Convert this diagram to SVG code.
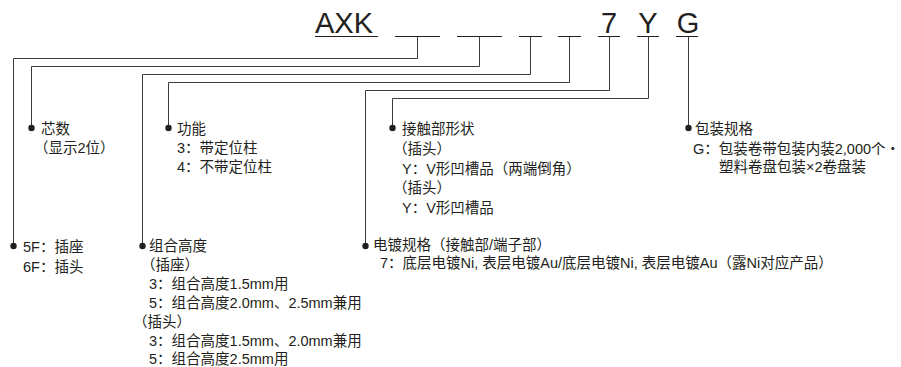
<svg xmlns="http://www.w3.org/2000/svg" width="901" height="367" viewBox="0 0 901 367">
<style>
text{font-family:"Liberation Sans","Noto Sans CJK SC",sans-serif;fill:#231f20;font-size:14.5px}
.big{font-size:29px}
.ln{fill:none;stroke:#3a3a3a;stroke-width:1}
.ul{fill:none;stroke:#231f20;stroke-width:1}
.dot{fill:#231f20}
</style>
<rect width="901" height="367" fill="#fff"/>
<g id="header">
<text class="big" x="315" y="33">AXK</text>
<text class="big" x="609" y="33" text-anchor="middle">7</text>
<text class="big" x="648" y="33" text-anchor="middle">Y</text>
<text class="big" x="688" y="33" text-anchor="middle">G</text>
<path class="ul" d="M315 36.5H378M395 36.5H440M457 36.5H502M519 36.5H542M558 36.5H581M598 36.5H620M637 36.5H659M676 36.5H698"/>
</g>
<g id="connectors">
<path class="ln" d="M417.5 36.5V58.5H13.5V246"/>
<path class="ln" d="M479.5 36.5V66.5H31.5V128"/>
<path class="ln" d="M530.5 36.5V74.5H142.5V246"/>
<path class="ln" d="M569.5 36.5V82.5H168.5V128"/>
<path class="ln" d="M609.5 36.5V90.5H365.5V246"/>
<path class="ln" d="M648.5 36.5V98.5H392.5V128"/>
<path class="ln" d="M688.5 36.5V128"/>
</g>
<g id="node-core-count">
<circle class="dot" cx="31.5" cy="128" r="3.2"/>
<text x="41" y="134">芯数</text>
<text x="34" y="153">（显示2位）</text>
</g>
<g id="node-type">
<circle class="dot" cx="13.5" cy="246" r="3.2"/>
<text x="23" y="252">5F：插座</text>
<text x="23" y="272">6F：插头</text>
</g>
<g id="node-function">
<circle class="dot" cx="168.5" cy="128" r="3.2"/>
<text x="177" y="134">功能</text>
<text x="177" y="153">3：带定位柱</text>
<text x="177" y="172">4：不带定位柱</text>
</g>
<g id="node-mated-height">
<circle class="dot" cx="142.5" cy="246" r="3.2"/>
<text x="149" y="251">组合高度</text>
<text x="141" y="270">（插座）</text>
<text x="149" y="289">3：组合高度1.5mm用</text>
<text x="149" y="308">5：组合高度2.0mm、2.5mm兼用</text>
<text x="133" y="327">（插头）</text>
<text x="149" y="346">3：组合高度1.5mm、2.0mm兼用</text>
<text x="149" y="364">5：组合高度2.5mm用</text>
</g>
<g id="node-contact-shape">
<circle class="dot" cx="392.5" cy="128" r="3.2"/>
<text x="402" y="134">接触部形状</text>
<text x="393" y="154">（插头）</text>
<text x="402" y="174">Y：V形凹槽品（两端倒角）</text>
<text x="393" y="193">（插头）</text>
<text x="402" y="213">Y：V形凹槽品</text>
</g>
<g id="node-plating">
<circle class="dot" cx="365.5" cy="246" r="3.2"/>
<text x="373" y="250">电镀规格（接触部/端子部）</text>
<text x="380" y="268">7：底层电镀Ni, 表层电镀Au/底层电镀Ni, 表层电镀Au（露Ni对应产品）</text>
</g>
<g id="node-packaging">
<circle class="dot" cx="688.5" cy="128" r="3.2"/>
<text x="695" y="134">包装规格</text>
<text x="693" y="154">G：包装卷带包装内装2,000个・</text>
<text x="719" y="172">塑料卷盘包装×2卷盘装</text>
</g>
</svg>
